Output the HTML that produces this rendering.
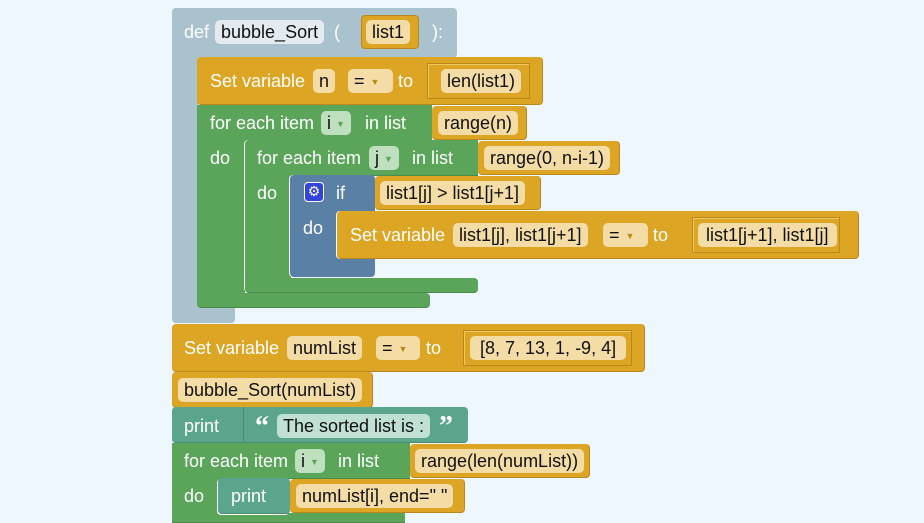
<!DOCTYPE html>
<html><head><meta charset="utf-8"><style>
body{margin:0;width:924px;height:520px;background:#eef6fe;position:relative;overflow:hidden;font-family:"Liberation Sans",sans-serif;font-size:18px}
div{position:absolute;box-sizing:border-box}
.o{background:#dca524;border-bottom:1px solid #b8891a;border-right:1px solid #b8891a;border-radius:4px}
.g{background:#5ba55b;border-bottom:1px solid #4a8a4a;border-radius:4px}
.d{background:#aac2ce;border-radius:4px}
.b{background:#5b80a5;border-radius:4px}
.t{background:#5ba58c;border-bottom:1px solid #4a8a72;border-radius:4px}
.l{color:#fff;line-height:20px;white-space:nowrap}
.f{line-height:24px;height:24px;border-radius:5px;padding:0 6px;color:#111;white-space:nowrap}
.fo{background:#f3dca6}
.fg{background:#bfe0bf}
.fd{background:#e3ebf0}
.ft{background:#bfe0d3}
.ob{border:1px solid #b8891a;box-shadow:inset 1px 1px 0 #f0c860}
.ar{font-size:9px;color:#b8891a;margin-left:6px;vertical-align:2px}
.arg{font-size:9px;color:#5ba55b;margin-left:5px;vertical-align:2px}
.q{color:#fff;font-weight:bold;font-size:28px;line-height:28px;font-family:"Liberation Serif",serif}
</style></head><body>
<!-- def block -->
<div class="d" style="left:172px;top:8px;width:285px;height:50px"></div>
<div class="d" style="left:172px;top:40px;width:26px;height:282px;border-radius:0 0 0 4px"></div>
<div class="d" style="left:172px;top:300px;width:63px;height:23px"></div>
<div class="l" style="left:184px;top:22px">def</div>
<div class="f fd" style="left:215px;top:20px">bubble_Sort</div>
<div class="l" style="left:334px;top:22px">(</div>
<div class="o" style="left:361px;top:15px;width:58px;height:34px;border:1px solid #b8891a"></div>
<div class="f fo" style="left:366px;top:20px">list1</div>
<div class="l" style="left:432px;top:22px">):</div>

<!-- set n -->
<div class="o" style="left:197px;top:57px;width:346px;height:48px"></div>
<div class="l" style="left:210px;top:71px">Set variable</div>
<div class="f fo" style="left:313px;top:69px">n</div>
<div class="f fo" style="left:348px;top:69px;width:45px">=<span class="ar">▼</span></div>
<div class="l" style="left:398px;top:71px">to</div>
<div class="ob" style="left:427px;top:63px;width:103px;height:36px"></div>
<div class="f fo" style="left:441px;top:69px">len(list1)</div>

<!-- outer for -->
<div class="g" style="left:197px;top:105px;width:235px;height:36px;border-radius:0"></div>
<div class="g" style="left:197px;top:105px;width:48px;height:202px;border-radius:0 0 0 4px"></div>
<div class="g" style="left:197px;top:293px;width:233px;height:15px"></div>
<div class="l" style="left:210px;top:113px">for each item</div>
<div class="f fg" style="left:321px;top:111px">i<span class="arg">▼</span></div>
<div class="l" style="left:365px;top:113px">in list</div>
<div class="o" style="left:432px;top:106px;width:95px;height:34px"></div>
<div class="f fo" style="left:438px;top:111px">range(n)</div>
<div class="l" style="left:210px;top:148px">do</div>

<!-- inner for -->
<div class="g" style="left:245px;top:140px;width:233px;height:36px;border-radius:4px 0 0 0"></div>
<div class="g" style="left:245px;top:140px;width:46px;height:152px;border-radius:4px 0 0 4px;box-shadow:-1px 0 0 #fff"></div>
<div class="g" style="left:245px;top:278px;width:233px;height:15px"></div>
<div class="l" style="left:257px;top:148px">for each item</div>
<div class="f fg" style="left:369px;top:146px">j<span class="arg">▼</span></div>
<div class="l" style="left:412px;top:148px">in list</div>
<div class="o" style="left:478px;top:141px;width:142px;height:34px"></div>
<div class="f fo" style="left:484px;top:146px">range(0, n-i-1)</div>
<div class="l" style="left:257px;top:183px">do</div>

<!-- if -->
<div class="b" style="left:290px;top:175px;width:85px;height:102px;box-shadow:-1px 0 0 #fff"></div>
<div style="left:304px;top:182px;width:20px;height:20px;background:#3344dd;border:1px solid #fff;border-radius:4px;color:#fff;font-size:14px;line-height:17px;text-align:center">⚙</div>
<div class="l" style="left:336px;top:183px">if</div>
<div class="o" style="left:375px;top:176px;width:166px;height:34px"></div>
<div class="f fo" style="left:380px;top:181px">list1[j] &gt; list1[j+1]</div>
<div class="l" style="left:303px;top:218px">do</div>

<!-- set swap -->
<div class="o" style="left:337px;top:211px;width:522px;height:48px;box-shadow:-1px 0 0 #fff"></div>
<div class="l" style="left:350px;top:225px">Set variable</div>
<div class="f fo" style="left:453px;top:223px">list1[j], list1[j+1]</div>
<div class="f fo" style="left:603px;top:223px;width:45px">=<span class="ar">▼</span></div>
<div class="l" style="left:653px;top:225px">to</div>
<div class="ob" style="left:692px;top:217px;width:148px;height:36px"></div>
<div class="f fo" style="left:698px;top:223px;padding:0 8px">list1[j+1], list1[j]</div>

<!-- set numList -->
<div class="o" style="left:172px;top:324px;width:473px;height:48px"></div>
<div class="l" style="left:184px;top:338px">Set variable</div>
<div class="f fo" style="left:287px;top:336px">numList</div>
<div class="f fo" style="left:376px;top:336px;width:44px">=<span class="ar">▼</span></div>
<div class="l" style="left:426px;top:338px">to</div>
<div class="ob" style="left:463px;top:330px;width:169px;height:36px"></div>
<div class="f fo" style="left:470px;top:336px;padding:0 10px">[8, 7, 13, 1, -9, 4]</div>

<!-- bubble_Sort call -->
<div class="o" style="left:172px;top:372px;width:201px;height:36px"></div>
<div class="f fo" style="left:178px;top:378px">bubble_Sort(numList)</div>

<!-- print -->
<div class="t" style="left:172px;top:407px;width:296px;height:36px"></div>
<div style="left:243px;top:407px;width:1px;height:36px;background:#4a8a72"></div>
<div class="l" style="left:184px;top:416px">print</div>
<div class="q" style="left:255px;top:413px">“</div>
<div class="f ft" style="left:277px;top:414px">The sorted list is :</div>
<div class="q" style="left:439px;top:413px">”</div>

<!-- last for -->
<div class="g" style="left:172px;top:443px;width:238px;height:36px;border-radius:0"></div>
<div class="g" style="left:172px;top:443px;width:47px;height:80px;border-radius:0"></div>
<div class="g" style="left:172px;top:513px;width:233px;height:10px;border-radius:0"></div>
<div class="l" style="left:184px;top:451px">for each item</div>
<div class="f fg" style="left:295px;top:449px">i<span class="arg">▼</span></div>
<div class="l" style="left:338px;top:451px">in list</div>
<div class="o" style="left:410px;top:444px;width:180px;height:34px"></div>
<div class="f fo" style="left:415px;top:449px">range(len(numList))</div>
<div class="l" style="left:184px;top:486px">do</div>
<div class="t" style="left:218px;top:478px;width:72px;height:36px;box-shadow:-1px 1px 0 #fff"></div>
<div class="l" style="left:231px;top:486px">print</div>
<div class="o" style="left:290px;top:479px;width:175px;height:34px"></div>
<div class="f fo" style="left:296px;top:484px">numList[i], end=" "</div>
</body></html>
